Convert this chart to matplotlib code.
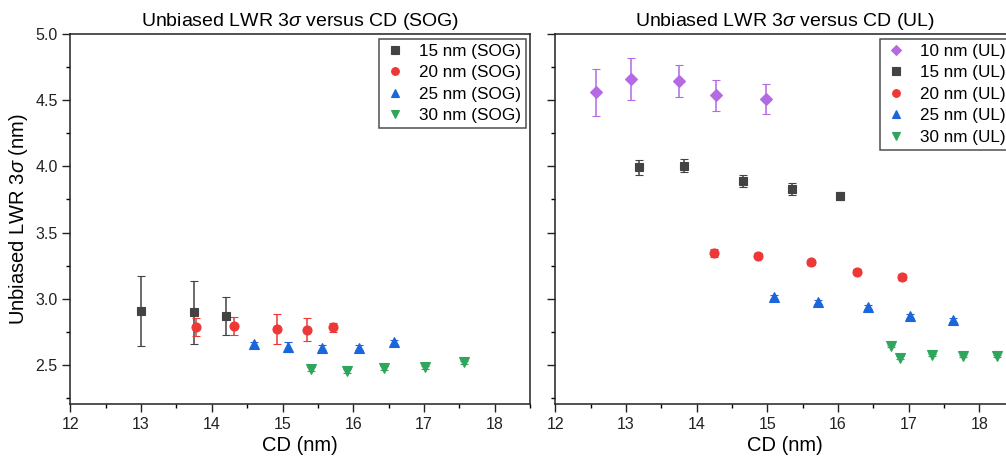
import matplotlib
matplotlib.use('Agg')
import matplotlib.pyplot as plt
from matplotlib.ticker import MultipleLocator

plt.rcParams['font.family'] = ['Liberation Sans', 'DejaVu Sans']
plt.rcParams['mathtext.fontset'] = 'custom'
plt.rcParams['mathtext.it'] = 'Liberation Sans:italic'
plt.rcParams['mathtext.rm'] = 'Liberation Sans'

# SOG series: CD, LWR 3sigma, error
sog15_cd = [13.00, 13.75, 14.20]
sog15_lwr = [2.907, 2.896, 2.867]
sog15_err = [0.265, 0.240, 0.145]

sog20_cd = [13.78, 14.32, 14.92, 15.34, 15.71]
sog20_lwr = [2.784, 2.790, 2.768, 2.765, 2.782]
sog20_err = [0.068, 0.067, 0.114, 0.085, 0.036]

sog25_cd = [14.59, 15.08, 15.56, 16.08, 16.57]
sog25_lwr = [2.655, 2.634, 2.628, 2.628, 2.670]
sog25_err = [0.02, 0.035, 0.02, 0.02, 0.02]

sog30_cd = [15.40, 15.91, 16.43, 17.01, 17.57]
sog30_lwr = [2.468, 2.455, 2.473, 2.480, 2.518]
sog30_err = [0.015, 0.015, 0.015, 0.01, 0.01]

# UL series
ul10_cd = [12.576, 13.071, 13.755, 14.274, 14.977]
ul10_lwr = [4.560, 4.662, 4.646, 4.537, 4.512]
ul10_err = [0.175, 0.158, 0.124, 0.115, 0.115]

ul15_cd = [13.19, 13.825, 14.652, 15.345, 16.03]
ul15_lwr = [3.994, 4.007, 3.890, 3.830, 3.775]
ul15_err = [0.055, 0.050, 0.045, 0.045, 0.03]

ul20_cd = [14.245, 14.873, 15.618, 16.274, 16.90]
ul20_lwr = [3.342, 3.324, 3.274, 3.203, 3.163]
ul20_err = [0.03, 0.02, 0.02, 0.02, 0.02]

ul25_cd = [15.094, 15.722, 16.429, 17.019, 17.623]
ul25_lwr = [3.009, 2.971, 2.933, 2.865, 2.839]
ul25_err = [0.015, 0.015, 0.015, 0.015, 0.015]

ul30_cd = [16.745, 16.877, 17.325, 17.764, 18.245]
ul30_lwr = [2.642, 2.554, 2.574, 2.566, 2.566]
ul30_err = [0.01, 0.01, 0.01, 0.01, 0.01]

sog_labels = ['15 nm (SOG)', '20 nm (SOG)', '25 nm (SOG)', '30 nm (SOG)']
ul_labels = ['10 nm (UL)', '15 nm (UL)', '20 nm (UL)', '25 nm (UL)', '30 nm (UL)']

GRAY = '#434343'
RED = '#EE3737'
BLUE = '#1C66DC'
GREEN = '#2FA65C'
PURPLE = '#B36AE2'

fig = plt.figure(figsize=(10.06, 4.61), dpi=100)
ax1 = fig.add_axes([0.0699, 0.123, 0.457, 0.8026])
ax2 = fig.add_axes([0.5520, 0.123, 0.4566, 0.8026])


def series(ax, x, y, e, color, marker, ms):
    c = ax.errorbar(x, y, yerr=e, fmt=marker, color=color, ms=ms, mec=color,
                    mew=0.8, ecolor=color, elinewidth=1.1, capsize=3, capthick=1.1,
                    zorder=3)
    return c[0]


h1 = [
    series(ax1, sog15_cd, sog15_lwr, sog15_err, GRAY, 's', 6),
    series(ax1, sog20_cd, sog20_lwr, sog20_err, RED, 'o', 6.5),
    series(ax1, sog25_cd, sog25_lwr, sog25_err, BLUE, '^', 7),
    series(ax1, sog30_cd, sog30_lwr, sog30_err, GREEN, 'v', 7),
]

h2 = [
    series(ax2, ul10_cd, ul10_lwr, ul10_err, PURPLE, 'D', 6),
    series(ax2, ul15_cd, ul15_lwr, ul15_err, GRAY, 's', 6),
    series(ax2, ul20_cd, ul20_lwr, ul20_err, RED, 'o', 6.5),
    series(ax2, ul25_cd, ul25_lwr, ul25_err, BLUE, '^', 7),
    series(ax2, ul30_cd, ul30_lwr, ul30_err, GREEN, 'v', 7),
]

for ax, tag, hs, labels in [(ax1, 'SOG', h1, sog_labels), (ax2, 'UL', h2, ul_labels)]:
    ax.set_xlim(12, 18.5)
    ax.set_ylim(2.2, 5.0)
    ax.xaxis.set_major_locator(MultipleLocator(1))
    ax.xaxis.set_minor_locator(MultipleLocator(0.5))
    ax.yaxis.set_major_locator(MultipleLocator(0.5))
    ax.yaxis.set_minor_locator(MultipleLocator(0.25))
    ax.tick_params(which='major', direction='out', length=5.5, width=1,
                   labelsize=11.5, colors='#222222')
    ax.tick_params(which='minor', direction='out', length=3, width=1)
    for s in ax.spines.values():
        s.set_linewidth(1.1)
        s.set_color('#222222')
    ax.set_xlabel('CD (nm)', fontsize=14.5, labelpad=3)
    ax.set_title('Unbiased LWR 3$\\sigma$ versus CD (%s)' % tag, fontsize=14, pad=6)
    # legend shows markers only, no error bars
    leg = ax.legend(hs, labels, loc='upper right', fontsize=12.3, numpoints=1,
                    frameon=True, fancybox=False, edgecolor='#222222',
                    handletextpad=0.8, borderaxespad=0.25, labelspacing=0.38,
                    handlelength=1.2, borderpad=0.3, markerscale=0.85)
    leg.get_frame().set_linewidth(1.1)

ax1.set_ylabel('Unbiased LWR 3$\\sigma$ (nm)', fontsize=14.5, labelpad=4)
ax2.tick_params(axis='y', labelleft=False)

fig.savefig('out.png', dpi=100)
